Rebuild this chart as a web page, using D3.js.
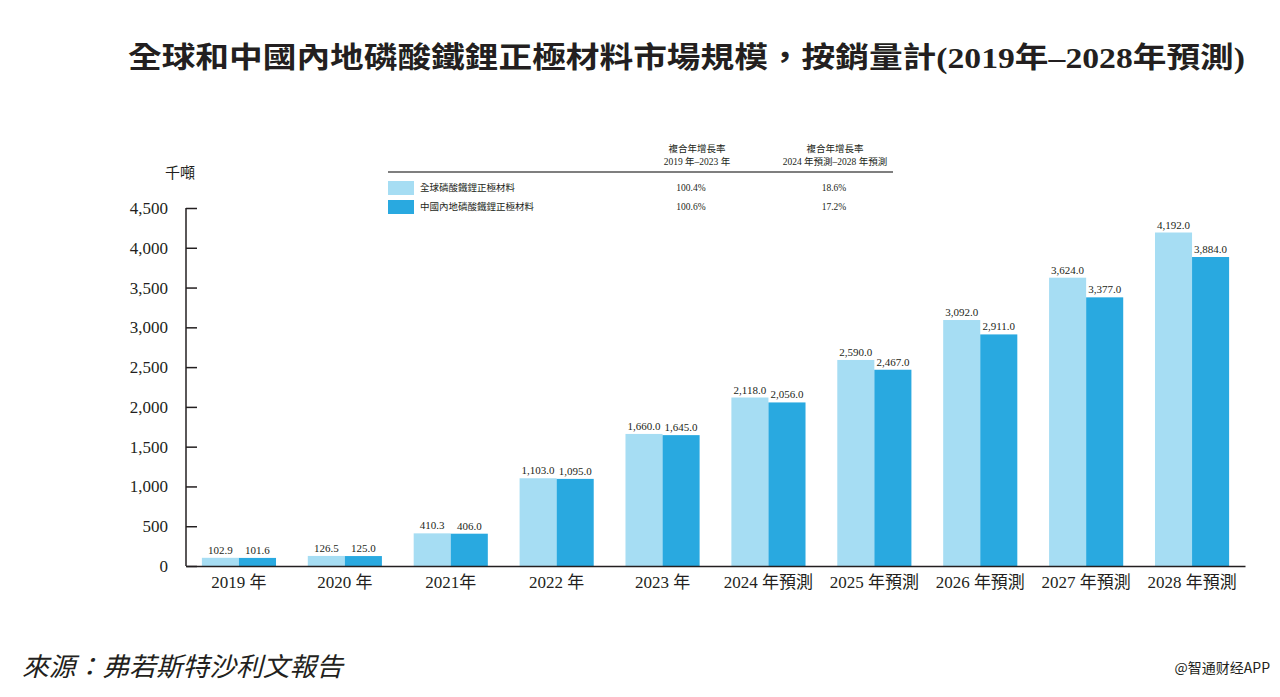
<!DOCTYPE html>
<html>
<head>
<meta charset="utf-8">
<script src="https://cdn.jsdelivr.net/npm/d3@7"></script>
<style>
  body { margin: 0; background: #fff; }
  text { font-family: "Liberation Serif", "Noto Sans CJK TC", serif; fill: #231f20; }
</style>
</head>
<body>
<svg id="chart" width="1280" height="697"></svg>
<script>
// data
const years = ['2019 年', '2020 年', '2021年', '2022 年', '2023 年',
  '2024 年預測', '2025 年預測', '2026 年預測', '2027 年預測', '2028 年預測'];
const globalVals = [102.9, 126.5, 410.3, 1103.0, 1660.0, 2118.0, 2590.0, 3092.0, 3624.0, 4192.0];
const chinaVals = [101.6, 125.0, 406.0, 1095.0, 1645.0, 2056.0, 2467.0, 2911.0, 3377.0, 3884.0];
const seriesNames = ['全球磷酸鐵鋰正極材料', '中國內地磷酸鐵鋰正極材料'];
const cagr1 = ['100.4%', '100.6%'];
const cagr2 = ['18.6%', '17.2%'];
const yTicks = [0, 500, 1000, 1500, 2000, 2500, 3000, 3500, 4000, 4500];

const colors = ['#a6ddf3', '#29a9e0'];

const svg = d3.select('#chart');

let margin = {top: 208, left: 186, right: 35, bottom: 131};
let width = 1280 - margin.left - margin.right;
let height = 697 - margin.top - margin.bottom;

const g = svg.append('g').attr('transform', `translate(${margin.left},${margin.top})`);

// scales
const scale = {
  x: d3.scaleBand().domain(years).range([0, width]).paddingInner(0.3).paddingOuter(0.15),
  y: d3.scaleLinear().domain([0, 4500]).range([height, 0]),
};
const sub = d3.scaleBand().domain([0, 1]).range([0, scale.x.bandwidth()]);

// bars
const rows = years.map((y, i) => ({year: y, vals: [globalVals[i], chinaVals[i]]}));
const groups = g.selectAll('g.grp').data(rows).enter().append('g')
  .attr('transform', (d) => `translate(${scale.x(d.year)},0)`);

groups.selectAll('rect').data((d) => d.vals).enter().append('rect')
  .attr('x', (d, i) => sub(i))
  .attr('y', (d) => scale.y(d))
  .attr('width', sub.bandwidth())
  .attr('height', (d) => height - scale.y(d))
  .attr('fill', (d, i) => colors[i]);

groups.selectAll('text').data((d) => d.vals).enter().append('text')
  .attr('x', (d, i) => sub(i) + sub.bandwidth() / 2)
  .attr('y', (d) => scale.y(d) - 4)
  .attr('text-anchor', 'middle')
  .style('font-size', '11px')
  .text((d) => d3.format(',.1f')(d));

// y axis
const axisY = g.append('g').call(d3.axisRight(scale.y).tickValues(yTicks).tickSize(11).tickFormat(''));
axisY.select('.domain').attr('d', `M0,0V${height}`);
axisY.selectAll('line, path').attr('stroke', '#231f20').attr('stroke-width', 1.5);
g.selectAll('text.ylab').data(yTicks).enter().append('text')
  .attr('x', -18)
  .attr('y', (d) => scale.y(d) + 6)
  .attr('text-anchor', 'end')
  .style('font-size', '17px')
  .text((d) => d3.format(',')(d));

g.append('text').attr('x', -6).attr('y', -30).attr('text-anchor', 'middle')
  .style('font-size', '15px').text('千噸');

// x axis
const axisX = g.append('g').attr('transform', `translate(0,${height})`)
  .call(d3.axisBottom(scale.x).tickSize(0).tickPadding(10));
axisX.attr('font-family', null).attr('font-size', null);
axisX.select('.domain').attr('stroke', '#231f20').attr('stroke-width', 1.5);
axisX.selectAll('text')
  .style('font-size', '17px')
  .style('font-family', '"Liberation Serif", "Noto Sans CJK TC", serif')
  .attr('fill', '#231f20');

// title
svg.append('text').attr('x', 128).attr('y', 68)
  .attr('textLength', 1117).attr('lengthAdjust', 'spacingAndGlyphs')
  .style('font-size', '29px').style('font-weight', 'bold')
  .text('全球和中國內地磷酸鐵鋰正極材料市場規模，按銷量計(2019年–2028年預測)');

// legend table
const lg = svg.append('g');
lg.append('line').attr('x1', 388).attr('x2', 893).attr('y1', 172).attr('y2', 172)
  .attr('stroke', '#555').attr('stroke-width', 1.5);
const heads = [{x: 697, t: ['複合年增長率', '2019 年–2023 年']},
  {x: 835, t: ['複合年增長率', '2024 年預測–2028 年預測']}];
heads.forEach((h) => {
  h.t.forEach((t, j) => {
    lg.append('text').attr('x', h.x).attr('y', 152 + j * 13).attr('text-anchor', 'middle')
      .style('font-size', '9.5px').text(t);
  });
});
seriesNames.forEach((name, i) => {
  const y = 181 + i * 19;
  lg.append('rect').attr('x', 388).attr('y', y).attr('width', 26).attr('height', 14).attr('fill', colors[i]);
  lg.append('text').attr('x', 420).attr('y', y + 10).style('font-size', '9.5px').text(name);
  lg.append('text').attr('x', 691).attr('y', y + 10).attr('text-anchor', 'middle').style('font-size', '9.5px').text(cagr1[i]);
  lg.append('text').attr('x', 834).attr('y', y + 10).attr('text-anchor', 'middle').style('font-size', '9.5px').text(cagr2[i]);
});

// source + watermark
svg.append('text').attr('x', 22).attr('y', 676)
  .attr('textLength', 321).attr('lengthAdjust', 'spacingAndGlyphs')
  .style('font-size', '26px').style('font-style', 'italic').attr('fill', '#333')
  .text('來源：弗若斯特沙利文報告');
svg.append('text').attr('x', 1270).attr('y', 673).attr('text-anchor', 'end')
  .style('font-size', '14px').style('font-family', '"Noto Sans CJK SC", sans-serif')
  .attr('fill', '#c8c8c8').text('@智通财经APP');
</script>
</body>
</html>
